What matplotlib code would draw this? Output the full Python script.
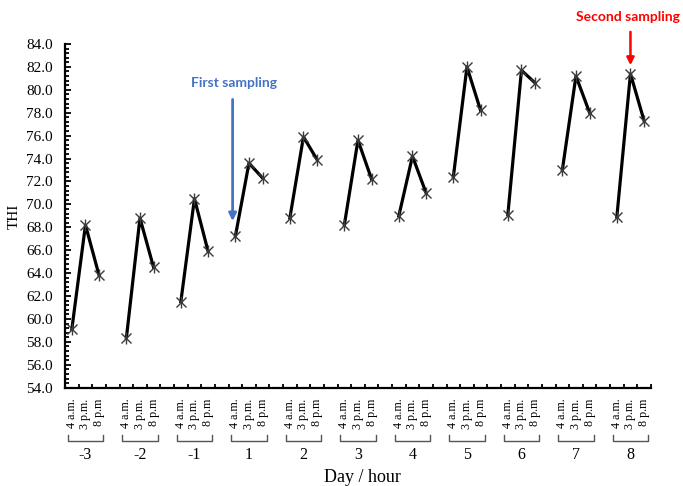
import matplotlib.pyplot as plt
from matplotlib.ticker import MultipleLocator, FixedLocator
import numpy as np

days = ['-3', '-2', '-1', '1', '2', '3', '4', '5', '6', '7', '8']
hours = ['4 a.m.', '3 p.m.', '8 p.m']
thi = [
    [59.1, 68.2, 63.8],
    [58.3, 68.8, 64.5],
    [61.5, 70.5, 65.9],
    [67.2, 73.6, 72.3],
    [68.8, 75.9, 73.9],
    [68.2, 75.6, 72.2],
    [69.0, 74.2, 71.0],
    [72.4, 82.0, 78.2],
    [69.1, 81.7, 80.6],
    [73.0, 81.2, 78.0],
    [68.9, 81.4, 77.3],
]

serif = 'Liberation Serif'
fig = plt.figure(figsize=(6.83, 4.86), dpi=100)
ax = fig.add_axes([0.0952, 0.2023, 0.8578, 0.7072])

# each day takes 3 slots plus one empty slot between days
pos = []
for d in range(len(days)):
    x = [4 * d + h for h in range(3)]
    pos.extend(x)
    ax.plot(x, thi[d], color='black', lw=2.3, zorder=2)
    ax.plot(x, thi[d], ls='none', marker='x', ms=7, mew=1.0, color='#3a3a3a', zorder=3)
    ax.plot(x, thi[d], ls='none', marker='|', ms=8, mew=1.0, color='#3a3a3a', zorder=3)

n_slots = 4 * len(days) - 1
ax.set_xlim(-0.5, n_slots - 0.5)
ax.set_ylim(54, 84)

ax.yaxis.set_minor_locator(MultipleLocator(0.4))
ax.set_yticks(np.arange(54, 84.1, 2))
ax.set_yticklabels([f'{v:.1f}' for v in np.arange(54, 84.1, 2)], fontfamily=serif, fontsize=11)
ax.tick_params(axis='y', which='major', direction='in', length=4, width=1.3, pad=9)
ax.tick_params(axis='y', which='minor', direction='in', length=3, width=1.3)

ax.xaxis.set_major_locator(FixedLocator(pos))
ax.set_xticklabels(hours * len(days), rotation=90, fontfamily=serif, fontsize=8.7, va='top')
ax.xaxis.set_minor_locator(FixedLocator(np.arange(-0.5, n_slots, 1)))
ax.tick_params(axis='x', which='major', length=0, pad=8)
ax.tick_params(axis='x', which='minor', direction='in', length=3, width=1.3)

for s in ['top', 'right']:
    ax.spines[s].set_visible(False)
for s in ['left', 'bottom']:
    ax.spines[s].set_linewidth(1.6)

ax.set_ylabel('THI', fontfamily=serif, fontsize=11, labelpad=4)

# brackets and day labels below hour labels
trans = ax.get_xaxis_transform()
yb = -0.156
for d, name in enumerate(days):
    x0 = 4 * d - 0.3
    x1 = 4 * d + 2.3
    ax.plot([x0, x0, x1, x1], [yb + 0.018, yb, yb, yb + 0.018], color='#555555',
            lw=1.0, transform=trans, clip_on=False)
    ax.text(4 * d + 1, -0.174, name, transform=trans, ha='center', va='top',
            fontfamily=serif, fontsize=11.5)

fig.text(0.53, 0.0, 'Day / hour', ha='center', va='bottom', fontfamily=serif, fontsize=13)

ax.annotate('', xy=(11.8, 68.3), xytext=(11.8, 79.4),
            arrowprops=dict(arrowstyle='-|>', color='#4472C4', lw=2.0, mutation_scale=11))
ax.text(11.9, 80.6, 'First sampling', color='#4472C4', fontfamily='Lato',
        fontweight='bold', fontsize=10, ha='center', va='center')

ax.annotate('', xy=(41, 81.9), xytext=(41, 85.3), annotation_clip=False,
            arrowprops=dict(arrowstyle='-|>', color='#FF0000', lw=1.8, mutation_scale=11))
ax.text(40.8, 86.35, 'Second sampling', color='#FF0000', fontfamily='Lato',
        fontweight='bold', fontsize=10, ha='center', va='center', clip_on=False)

fig.savefig('out.png', dpi=100)
